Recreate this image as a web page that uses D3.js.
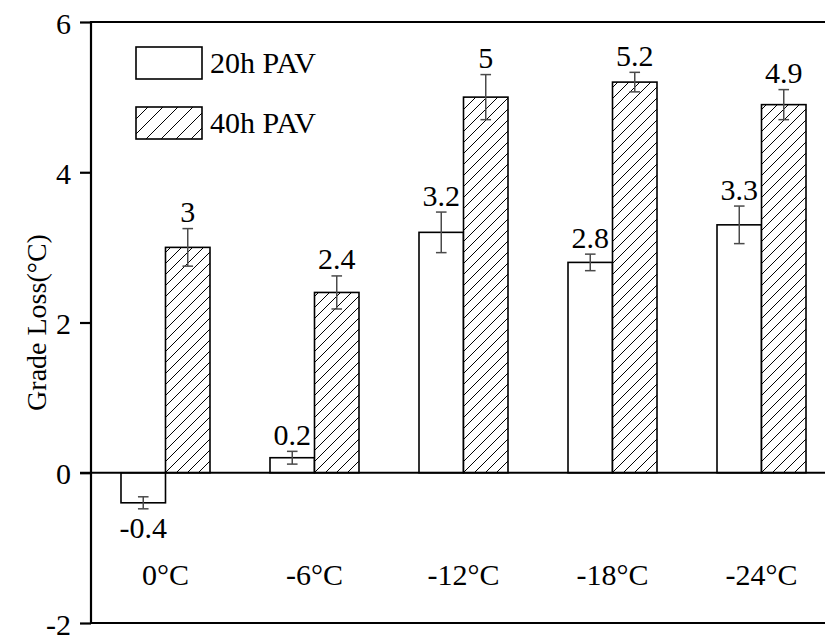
<!DOCTYPE html>
<html>
<head>
<meta charset="utf-8">
<script src="https://cdn.jsdelivr.net/npm/d3@7"></script>
<style>
  html, body { margin: 0; padding: 0; background: #fff; }
  svg { display: block; }
  text { font-family: "Liberation Serif", "Times New Roman", serif; fill: #000; }
</style>
</head>
<body>
<svg id="chart" width="825" height="635"></svg>
<script>
// Aging temperatures (x categories)
const categories = ["0°C", "-6°C", "-12°C", "-18°C", "-24°C"];
// Series names
const seriesNames = ["20h PAV", "40h PAV"];
// Grade loss values (°C)
const values20h = [-0.4, 0.2, 3.2, 2.8, 3.3];
const values40h = [3.0, 2.4, 5.0, 5.2, 4.9];
// Error bar half-widths
const errors20h = [0.08, 0.085, 0.27, 0.11, 0.25];
const errors40h = [0.25, 0.22, 0.30, 0.13, 0.20];
// Value labels
const labels20h = ["-0.4", "0.2", "3.2", "2.8", "3.3"];
const labels40h = ["3", "2.4", "5", "5.2", "4.9"];
// Y axis ticks
const yTicks = [-2, 0, 2, 4, 6];

const FS = 30;

const svg = d3.select("#chart");
const margin = { left: 91, top: 22 };
const plotW = 745, plotH = 601;
const x0 = margin.left, x1 = margin.left + plotW;
const yTop = margin.top, yBot = margin.top + plotH;

const y = d3.scaleLinear().domain([-2, 6]).range([yBot, yTop]);
const x = d3.scaleBand().domain(categories).range([x0, x1])
  .paddingInner(0.4027).paddingOuter(0.2013);
const xs = d3.scaleBand().domain(seriesNames).range([0, x.bandwidth()]);

const rows = categories.map((c, i) => ({
  cat: c,
  bars: [
    { s: seriesNames[0], v: values20h[i], e: errors20h[i], lab: labels20h[i], hatch: false },
    { s: seriesNames[1], v: values40h[i], e: errors40h[i], lab: labels40h[i], hatch: true }
  ]
}));

// Diagonal hatch patterns
const defs = svg.append("defs");
function hatch(id, size) {
  const p = defs.append("pattern").attr("id", id)
    .attr("patternUnits", "userSpaceOnUse")
    .attr("width", size).attr("height", size);
  p.append("rect").attr("width", size).attr("height", size).attr("fill", "#fff");
  p.append("path")
    .attr("d", `M${-size/2},${size/2} L${size/2},${-size/2} M0,${size} L${size},0 M${size/2},${size*1.5} L${size*1.5},${size/2}`)
    .attr("stroke", "#000").attr("stroke-width", 1);
}
hatch("hatchBar", 11);
hatch("hatchLegend", 15);

const g = svg.append("g");

// Bars
const groups = g.selectAll("g.grp").data(rows).join("g")
  .attr("class", "grp")
  .attr("transform", d => `translate(${x(d.cat)},0)`);

groups.selectAll("rect").data(d => d.bars).join("rect")
  .attr("x", d => xs(d.s))
  .attr("width", xs.bandwidth())
  .attr("y", d => y(Math.max(0, d.v)))
  .attr("height", d => Math.abs(y(d.v) - y(0)))
  .attr("fill", d => d.hatch ? "url(#hatchBar)" : "#fff")
  .attr("stroke", "#000").attr("stroke-width", 1.6);

// Error bars
const cap = 5.3;
const eb = groups.selectAll("g.err").data(d => d.bars).join("g").attr("class", "err")
  .attr("transform", d => `translate(${xs(d.s) + xs.bandwidth() / 2},0)`)
  .attr("stroke", "#4a4a4a").attr("stroke-width", 1.5);
eb.append("line").attr("x1", 0).attr("x2", 0)
  .attr("y1", d => y(d.v + d.e)).attr("y2", d => y(d.v - d.e));
eb.append("line").attr("x1", -cap).attr("x2", cap)
  .attr("y1", d => y(d.v + d.e)).attr("y2", d => y(d.v + d.e));
eb.append("line").attr("x1", -cap).attr("x2", cap)
  .attr("y1", d => y(d.v - d.e)).attr("y2", d => y(d.v - d.e));

// Value labels
groups.selectAll("text.val").data(d => d.bars).join("text").attr("class", "val")
  .attr("x", d => xs(d.s) + xs.bandwidth() / 2)
  .attr("y", d => d.v >= 0 ? y(d.v + d.e) - 6.5 : y(d.v - d.e) + 29)
  .attr("text-anchor", "middle")
  .attr("font-size", FS)
  .text(d => d.lab);

// Category labels
g.selectAll("text.cat").data(categories).join("text").attr("class", "cat")
  .attr("x", d => x(d) + x.bandwidth() / 2)
  .attr("y", y(-1.5))
  .attr("text-anchor", "middle")
  .attr("font-size", FS)
  .text(d => d);

// Frame and zero line
const axisStroke = 2.2;
g.append("line").attr("x1", x0).attr("x2", x1 + 5).attr("y1", yTop).attr("y2", yTop)
  .attr("stroke", "#000").attr("stroke-width", axisStroke);
g.append("line").attr("x1", x0).attr("x2", x1 + 5).attr("y1", yBot).attr("y2", yBot)
  .attr("stroke", "#000").attr("stroke-width", axisStroke);
g.append("line").attr("x1", x0 - 11).attr("x2", x1 + 5).attr("y1", y(0)).attr("y2", y(0))
  .attr("stroke", "#000").attr("stroke-width", axisStroke);

// Left axis
const yAxis = d3.axisLeft(y).tickValues(yTicks).tickSize(11).tickPadding(9)
  .tickFormat(d => String(d));
const ax = svg.append("g").attr("transform", `translate(${x0},0)`).call(yAxis);
ax.select(".domain").attr("stroke-width", axisStroke)
  .attr("d", `M0,${yTop - 1}V${yBot + 1}`);
ax.selectAll(".tick line").attr("stroke-width", axisStroke);
ax.selectAll(".tick text")
  .attr("font-family", "Liberation Serif, Times New Roman, serif")
  .attr("font-size", FS).attr("dy", "0.37em");

// Y axis title
svg.append("text")
  .attr("transform", `translate(46,${(yTop + yBot) / 2}) rotate(-90)`)
  .attr("text-anchor", "middle")
  .attr("font-size", 28)
  .text("Grade Loss(°C)");

// Legend
const legend = svg.append("g");
const legItems = [
  { name: seriesNames[0], fill: "#fff", y: 47 },
  { name: seriesNames[1], fill: "url(#hatchLegend)", y: 107 }
];
legItems.forEach(it => {
  legend.append("rect").attr("x", 136).attr("y", it.y).attr("width", 66).attr("height", 32)
    .attr("fill", it.fill).attr("stroke", "#000").attr("stroke-width", 1.6);
  legend.append("text").attr("x", 210).attr("y", it.y + 26)
    .attr("font-size", FS).text(it.name);
});
</script>
</body>
</html>
